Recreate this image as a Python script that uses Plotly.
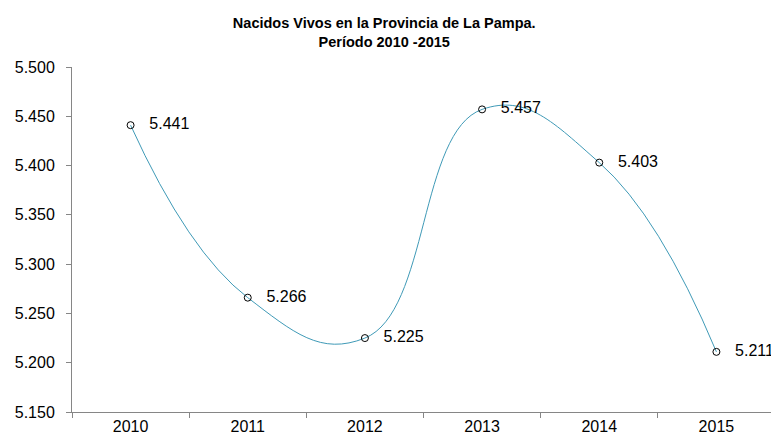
import plotly.graph_objects as go

# Nacidos vivos, La Pampa 2010-2015
years = ["2010", "2011", "2012", "2013", "2014", "2015"]
births = [5441, 5266, 5225, 5457, 5403, 5211]

FONT = "Liberation Sans, Arial"

fig = go.Figure()
fig.add_trace(go.Scatter(
    x=years, y=births,
    mode="lines+markers+text",
    line=dict(color="#3F9AB7", width=1, shape="spline", smoothing=1.3),
    marker=dict(symbol="circle-open", size=7, color="black", line=dict(width=1)),
    texttemplate="   %{y:,.0f}",
    textposition="middle right",
    textfont=dict(family=FONT, size=16, color="black"),
    cliponaxis=False,
    hoverinfo="x+y",
))

axis_style = dict(showline=True, linecolor="#868686", linewidth=1,
                  ticks="outside", tickcolor="#868686", ticklen=5,
                  showgrid=False, zeroline=False,
                  tickfont=dict(family=FONT, size=16, color="black"))

fig.update_xaxes(type="category", range=[-0.5, 5.5], tickson="boundaries", **axis_style)
fig.update_yaxes(range=[5150, 5500], dtick=50, tickformat=",.0f", ticklabelstandoff=8, **axis_style)

# page body has an 8px margin, so the figure is a bit smaller than the window
fig.update_layout(
    width=771, height=431,
    separators=",.",
    title=dict(text="<b>Nacidos Vivos en la Provincia de La Pampa.<br>Período 2010 -2015</b>",
               x=0.488, xanchor="center", y=0.954, yanchor="top",
               font=dict(family=FONT, size=14.5, color="black")),
    margin=dict(l=64, r=4, t=59, b=21),
    plot_bgcolor="white", paper_bgcolor="white",
    showlegend=False,
)

fig.write_html("out.html")
